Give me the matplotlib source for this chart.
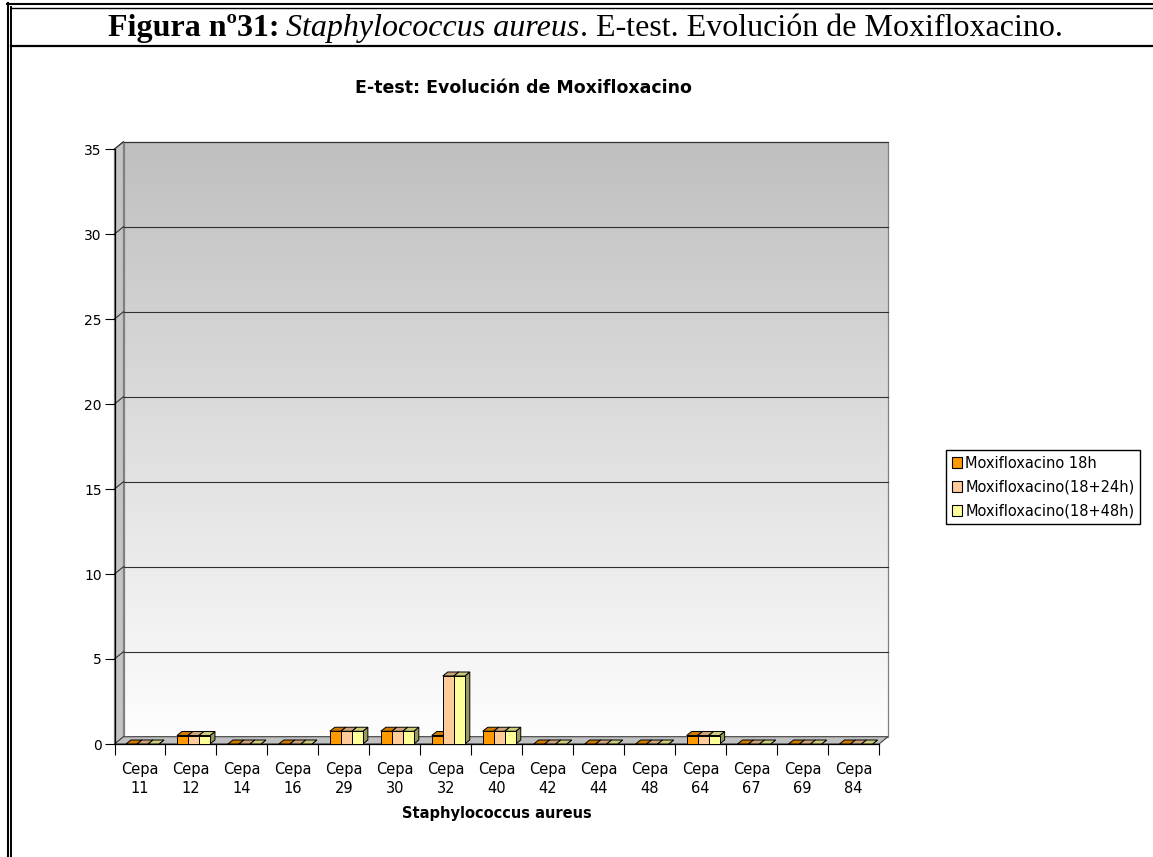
import numpy as np
import matplotlib.pyplot as plt
from matplotlib.patches import Polygon, Patch
from matplotlib.lines import Line2D

# Data
cepas = ["11", "12", "14", "16", "29", "30", "32", "40", "42", "44", "48", "64", "67", "69", "84"]
moxi_18h = [0, 0.5, 0, 0, 0.75, 0.75, 0.5, 0.75, 0, 0, 0, 0.5, 0, 0, 0]
moxi_24h = [0, 0.5, 0, 0, 0.75, 0.75, 4, 0.75, 0, 0, 0, 0.5, 0, 0, 0]
moxi_48h = [0, 0.5, 0, 0, 0.75, 0.75, 4, 0.75, 0, 0, 0, 0.5, 0, 0, 0]
series_names = ["Moxifloxacino 18h", "Moxifloxacino(18+24h)", "Moxifloxacino(18+48h)"]
y_ticks = [0, 5, 10, 15, 20, 25, 30, 35]

face_colors = ["#FF9900", "#FFCC99", "#FFFF99"]

W, H = 1153, 857
fig = plt.figure(figsize=(W / 100, H / 100), dpi=100)


def fx(px):
    return px / W


def fy(py):
    return 1 - py / H


def shade(color, k):
    r, g, b = [int(color[i:i + 2], 16) / 255 for i in (1, 3, 5)]
    return (r * k, g * k, b * k)


# plot area (front plane)
x_left, x_right, y_bottom, y_top = 114.5, 879, 744, 149
ax = fig.add_axes([fx(x_left), fy(y_bottom), (x_right - x_left) / W, (y_bottom - y_top) / H])
n = len(cepas)
ymax = 35
px_x = (x_right - x_left) / n
px_y = (y_bottom - y_top) / ymax

# depth offsets (pixels -> data units)
wdx, wdy = 9 / px_x, 7.3 / px_y
bdx, bdy = 5 / px_x, 4 / px_y
bar_off, bar_w = 0.225, 0.216

# back wall with gradient (dark grey at top, white at bottom)
grad = np.linspace(0.75, 0.995, 256).reshape(-1, 1)
grad = np.repeat(grad[:, :, None], 3, axis=2)
ax.imshow(grad, extent=[wdx, n + wdx, wdy, ymax + wdy], aspect="auto", origin="upper",
          interpolation="bilinear", zorder=0, clip_on=False)
ax.add_patch(Polygon([(wdx, wdy), (n + wdx, wdy), (n + wdx, ymax + wdy), (wdx, ymax + wdy)],
                     closed=True, facecolor="none", edgecolor="#808080", lw=0.9,
                     zorder=0.5, clip_on=False))

# left side wall
ax.add_patch(Polygon([(0, 0), (0, ymax), (wdx, ymax + wdy), (wdx, wdy)], closed=True,
                     facecolor="#c4c4c4", edgecolor="#808080", lw=0.9, zorder=0.6,
                     clip_on=False))

# floor
ax.add_patch(Polygon([(0, 0), (n, 0), (n + wdx, wdy), (wdx, wdy)], closed=True,
                     facecolor="#c0c0c0", edgecolor="#404040", lw=0.8, zorder=0.7,
                     clip_on=False))

# gridlines on back wall and left wall
for v in y_ticks[1:]:
    ax.plot([wdx, n + wdx], [v + wdy, v + wdy], color="#303030", lw=0.8, zorder=0.8,
            clip_on=False)
    ax.plot([0, wdx], [v, v + wdy], color="#303030", lw=0.8, zorder=0.8, clip_on=False)

# 3D bars
series = [moxi_18h, moxi_24h, moxi_48h]
for i in range(n):
    for j, vals in enumerate(series):
        x0 = i + bar_off + j * bar_w
        x1 = x0 + bar_w
        h = vals[i]
        z = 3 + i * 0.01 + j * 0.001
        ax.add_patch(Polygon([(x1, 0), (x1 + bdx, bdy), (x1 + bdx, h + bdy), (x1, h)],
                             closed=True, facecolor=shade(face_colors[j], 0.6),
                             edgecolor="black", lw=0.7, zorder=z, clip_on=False))
        ax.add_patch(Polygon([(x0, h), (x1, h), (x1 + bdx, h + bdy), (x0 + bdx, h + bdy)],
                             closed=True, facecolor=shade(face_colors[j], 0.8),
                             edgecolor="black", lw=0.7, zorder=z, clip_on=False))
        ax.add_patch(Polygon([(x0, 0), (x1, 0), (x1, h), (x0, h)], closed=True,
                             facecolor=face_colors[j], edgecolor="black", lw=0.7,
                             zorder=z, clip_on=False))

ax.set_xlim(0, n)
ax.set_ylim(0, ymax)
ax.patch.set_visible(False)
for s in ["top", "right"]:
    ax.spines[s].set_visible(False)
for s in ["left", "bottom"]:
    ax.spines[s].set_color("black")
    ax.spines[s].set_linewidth(0.9)
    ax.spines[s].set_zorder(2)

ax.set_yticks(y_ticks)
ax.tick_params(axis="y", length=7.2, width=0.8, pad=2, labelsize=10)
ax.set_xticks(np.arange(n + 1))
ax.set_xticklabels([])
ax.set_xticks(np.arange(n) + 0.5, minor=True)
ax.set_xticklabels(["Cepa\n" + c for c in cepas], minor=True, fontsize=10.5, linespacing=1.35)
ax.tick_params(axis="x", which="major", length=8, width=0.8)
ax.tick_params(axis="x", which="minor", length=0, pad=13)
ax.set_xlabel("Staphylococcus aureus", fontsize=10.5, fontweight="bold", labelpad=7)

# chart title
fig.text(fx(523), fy(93), "E-test: Evolución de Moxifloxacino", ha="center", va="baseline",
         fontsize=12.5, fontweight="bold")

# legend
handles = [Patch(facecolor=c, edgecolor="black", lw=0.8) for c in face_colors]
leg = fig.legend(handles, series_names, loc="upper left",
                 bbox_to_anchor=(fx(945.7), fy(450)), frameon=True, fancybox=False,
                 edgecolor="black", framealpha=1, fontsize=10.5, handlelength=0.75,
                 handleheight=0.75, handletextpad=0.2, labelspacing=0.6,
                 borderpad=0.4, borderaxespad=0)
leg.get_frame().set_linewidth(1)

# page frame lines
frame = [
    ([7, W], [3.7, 3.7], 1.5),
    ([7.7, 7.7], [3, H], 1.5),
    ([11, W], [7.6, 7.6], 1.0),
    ([11.3, 11.3], [7, H], 1.4),
    ([11, W], [46.3, 46.3], 1.6),
]
for xs, ys, lw in frame:
    fig.add_artist(Line2D([fx(v) for v in xs], [fy(v) for v in ys], color="black", lw=lw))

# figure caption with mixed styles
renderer = fig.canvas.get_renderer()
parts = [("Figura nº31:", "bold", "normal"),
         ("Staphylococcus aureus", "normal", "italic"),
         (". E-test. Evolución de Moxifloxacino.", "normal", "normal")]
gaps = [7, 0, 0]
texts = []
for (s, wt, st) in parts:
    t = fig.text(0, fy(36), s, fontsize=23, fontweight=wt, fontstyle=st,
                 family="Liberation Serif", ha="left", va="baseline")
    texts.append(t)
widths = [t.get_window_extent(renderer).width for t in texts]
total = sum(widths) + sum(gaps)
x = 585 - total / 2
for t, w, g in zip(texts, widths, gaps):
    t.set_x(fx(x))
    x += w + g

fig.savefig("out.png", dpi=100)
